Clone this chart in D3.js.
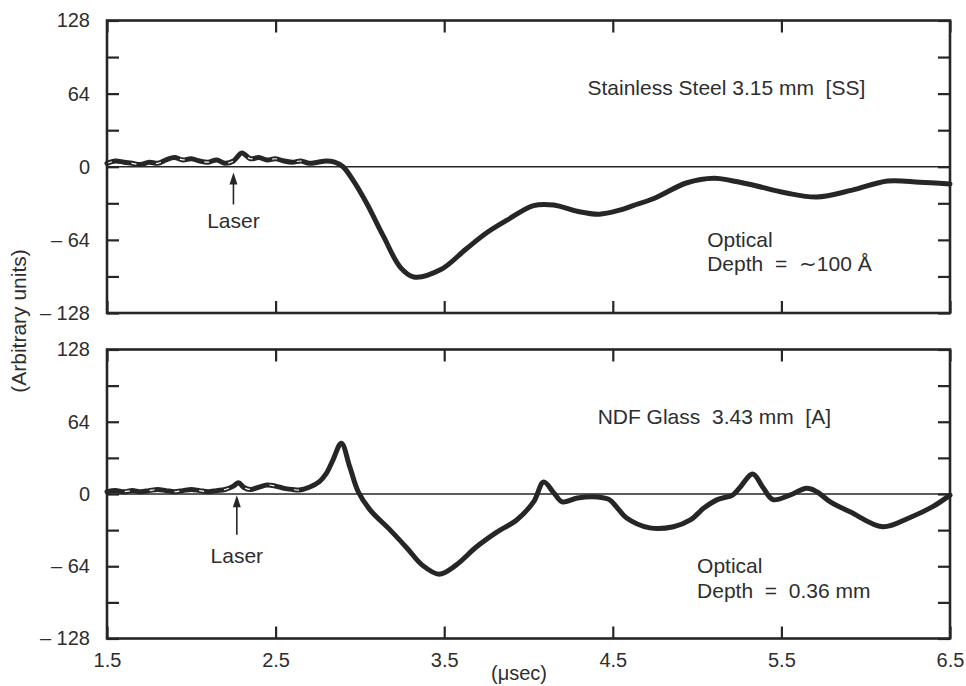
<!DOCTYPE html>
<html>
<head>
<meta charset="utf-8">
<script src="https://cdn.jsdelivr.net/npm/d3@7"></script>
<style>
  body { margin: 0; background: #fff; }
  text { font-family: "Liberation Sans", Arial, Helvetica, sans-serif; fill: #2e2e2e; white-space: pre; }
</style>
</head>
<body>
<script>
// x axis: time in microseconds
const xTicks = [1.5, 2.5, 3.5, 4.5, 5.5, 6.5];
const xTickLabels = ['1.5', '2.5', '3.5', '4.5', '5.5', '6.5'];

// y axis: arbitrary units, ticks every 32, labels every 64
const yTicks = [-128, -96, -64, -32, 0, 32, 64, 96, 128];
const yLabelValues = [-128, -64, 0, 64, 128];
const yLabelTexts = ['\u2013 128', '\u2013 64', '0', '64', '128'];

// Stainless Steel 3.15 mm [SS]
const steelTime = [1.50, 1.55, 1.60, 1.65, 1.70, 1.75, 1.80, 1.85, 1.90, 1.95, 2.00, 2.05, 2.10, 2.15, 2.20, 2.25,
    2.30, 2.35, 2.40, 2.45, 2.50, 2.55, 2.60, 2.65, 2.70, 2.75, 2.80, 2.85, 2.90, 2.96, 3.04, 3.14, 3.24, 3.32,
    3.48, 3.63, 3.75, 3.87, 4.03, 4.15, 4.29, 4.42, 4.54, 4.62, 4.74, 4.94, 5.10, 5.20, 5.33, 5.53, 5.71,
    5.92, 6.13, 6.32, 6.50];
const steelValue = [3, 5, 4, 3, 2, 4, 3, 6, 8, 6, 7, 5, 4, 6, 3, 5,
    12, 7, 8, 6, 7, 5, 4, 5, 3, 4, 5, 4, 0, -12, -32, -61, -88, -96.5,
    -90, -72, -58, -47, -34, -33.5, -39, -41.5, -38, -34, -28, -14, -10, -12, -16, -23, -26.5,
    -20.5, -12.5, -13.5, -15];

// NDF Glass 3.43 mm [A]
const glassTime = [1.50, 1.55, 1.60, 1.65, 1.70, 1.75, 1.80, 1.85, 1.90, 1.95, 2.00, 2.05, 2.10, 2.15, 2.20, 2.25,
    2.28, 2.31, 2.35, 2.40, 2.45, 2.50, 2.55, 2.60, 2.64, 2.70, 2.76, 2.80, 2.84, 2.89, 2.94, 2.99, 3.06, 3.18,
    3.28, 3.37, 3.47, 3.57, 3.69, 3.81, 3.93, 4.03, 4.09, 4.15, 4.20, 4.29, 4.41, 4.48, 4.52, 4.58, 4.72, 4.86,
    4.96, 5.04, 5.12, 5.21, 5.25, 5.33, 5.39, 5.45, 5.55, 5.65, 5.71, 5.79, 5.91, 6.10, 6.26, 6.40, 6.50];
const glassValue = [2, 3, 2, 3, 2, 3, 4, 3, 2, 3, 4, 3, 2, 3, 4, 7,
    10, 6, 4, 6, 8, 7, 5, 4, 3.5, 6, 11, 18, 30, 45, 24, 2, -14, -32,
    -48, -63, -71, -63, -47, -34, -23, -7, 10.6, 1, -7, -3.5, -2.6, -5, -11, -21, -30, -29,
    -23, -12.5, -5, -1, 5, 17.7, 6, -5, -1, 5, 2, -7, -16, -29, -21, -11, -1];

const panels = [
    {
        time: steelTime, value: steelValue, top: 20.5, bottom: 313,
        title: 'Stainless Steel 3.15 mm  [SS]', titleAt: [4.35, 63],
        notes: ['Optical', 'Depth  =  \u223C100 \u00C5'], notesAt: [5.06, -70, -91],
        laser: [2.25, -5, -33, -54]
    },
    {
        time: glassTime, value: glassValue, top: 349.5, bottom: 638.5,
        title: 'NDF Glass  3.43 mm  [A]', titleAt: [4.41, 62],
        notes: ['Optical', 'Depth  =  0.36 mm'], notesAt: [5.0, -70, -92],
        laser: [2.27, -1, -36, -61]
    }
];

const svg = d3.select('body').append('svg')
    .attr('width', 966)
    .attr('height', 686);

const x = d3.scaleLinear().domain([1.5, 6.5]).range([107, 950]);
const ink = '#262626';

panels.forEach((p, i) => {
    const y = d3.scaleLinear().domain([-128, 128]).range([p.bottom, p.top]);
    const g = svg.append('g');

    // zero line
    g.append('line')
        .attr('x1', x(1.5)).attr('x2', x(6.5))
        .attr('y1', y(0)).attr('y2', y(0))
        .attr('stroke', ink).attr('stroke-width', 1.6);

    // the trace
    const pts = p.time.map((t, k) => ({ t, v: p.value[k] }));
    const line = d3.line()
        .x(d => x(d.t))
        .y(d => y(d.v))
        .curve(d3.curveCatmullRom.alpha(0.5));
    g.append('path')
        .attr('d', line(pts))
        .attr('fill', 'none')
        .attr('stroke', ink)
        .attr('stroke-width', 5)
        .attr('stroke-linejoin', 'round')
        .attr('stroke-linecap', 'round');

    // white specks inside the noisy pre-trigger band
    g.append('path')
        .attr('d', line(pts.filter(d => d.t <= 2.7)))
        .attr('fill', 'none')
        .attr('stroke', '#fff')
        .attr('stroke-width', 1.2)
        .attr('stroke-dasharray', '5 20')
        .attr('stroke-dashoffset', i * 7);

    // axes, ticks pointing inward
    const labelOf = v => {
        const k = yLabelValues.indexOf(v);
        return k < 0 ? '' : yLabelTexts[k];
    };
    g.append('g')
        .attr('transform', `translate(${x(1.5)},0)`)
        .call(d3.axisLeft(y).tickValues(yTicks).tickSize(-12).tickPadding(17).tickFormat(labelOf));
    g.append('g')
        .attr('transform', `translate(${x(6.5)},0)`)
        .call(d3.axisRight(y).tickValues(yTicks).tickSize(-12).tickFormat(''));
    g.append('g')
        .attr('transform', `translate(0,${p.top})`)
        .call(d3.axisTop(x).tickValues(xTicks).tickSize(-12).tickFormat(''));
    g.append('g')
        .attr('transform', `translate(0,${p.bottom})`)
        .call(d3.axisBottom(x).tickValues(xTicks).tickSize(-12).tickPadding(14)
            .tickFormat((d, k) => i === 1 ? xTickLabels[k] : ''));

    g.selectAll('.domain').remove();
    g.selectAll('.tick line').attr('stroke', ink).attr('stroke-width', 2.2);
    g.selectAll('.tick text').style('font-size', '20px').attr('fill', '#2e2e2e');

    // frame
    g.append('rect')
        .attr('x', x(1.5)).attr('y', p.top)
        .attr('width', x(6.5) - x(1.5)).attr('height', p.bottom - p.top)
        .attr('fill', 'none')
        .attr('stroke', ink)
        .attr('stroke-width', 2.6);

    // title and notes
    g.append('text')
        .attr('x', x(p.titleAt[0])).attr('y', y(p.titleAt[1]))
        .style('font-size', '21px')
        .text(p.title);
    g.append('text')
        .attr('x', x(p.notesAt[0])).attr('y', y(p.notesAt[1]))
        .style('font-size', '21px')
        .text(p.notes[0]);
    g.append('text')
        .attr('x', x(p.notesAt[0])).attr('y', y(p.notesAt[2]))
        .style('font-size', '21px')
        .text(p.notes[1]);

    // laser arrow
    const [lt, tip, tail, lab] = p.laser;
    g.append('line')
        .attr('x1', x(lt)).attr('x2', x(lt))
        .attr('y1', y(tail)).attr('y2', y(tip) + 8)
        .attr('stroke', ink).attr('stroke-width', 1.6);
    g.append('path')
        .attr('d', `M${x(lt)},${y(tip)} L${x(lt) - 4},${y(tip) + 12} L${x(lt) + 4},${y(tip) + 12} Z`)
        .attr('fill', ink);
    g.append('text')
        .attr('x', x(lt)).attr('y', y(lab))
        .attr('text-anchor', 'middle')
        .style('font-size', '21px')
        .text('Laser');
});

// axis titles
svg.append('text')
    .attr('transform', 'translate(26,321) rotate(-90)')
    .attr('text-anchor', 'middle')
    .style('font-size', '21px')
    .text('(Arbitrary units)');

svg.append('text')
    .attr('x', 519)
    .attr('y', 680)
    .attr('text-anchor', 'middle')
    .style('font-size', '20px')
    .text('(\u03BCsec)');
</script>
</body>
</html>
